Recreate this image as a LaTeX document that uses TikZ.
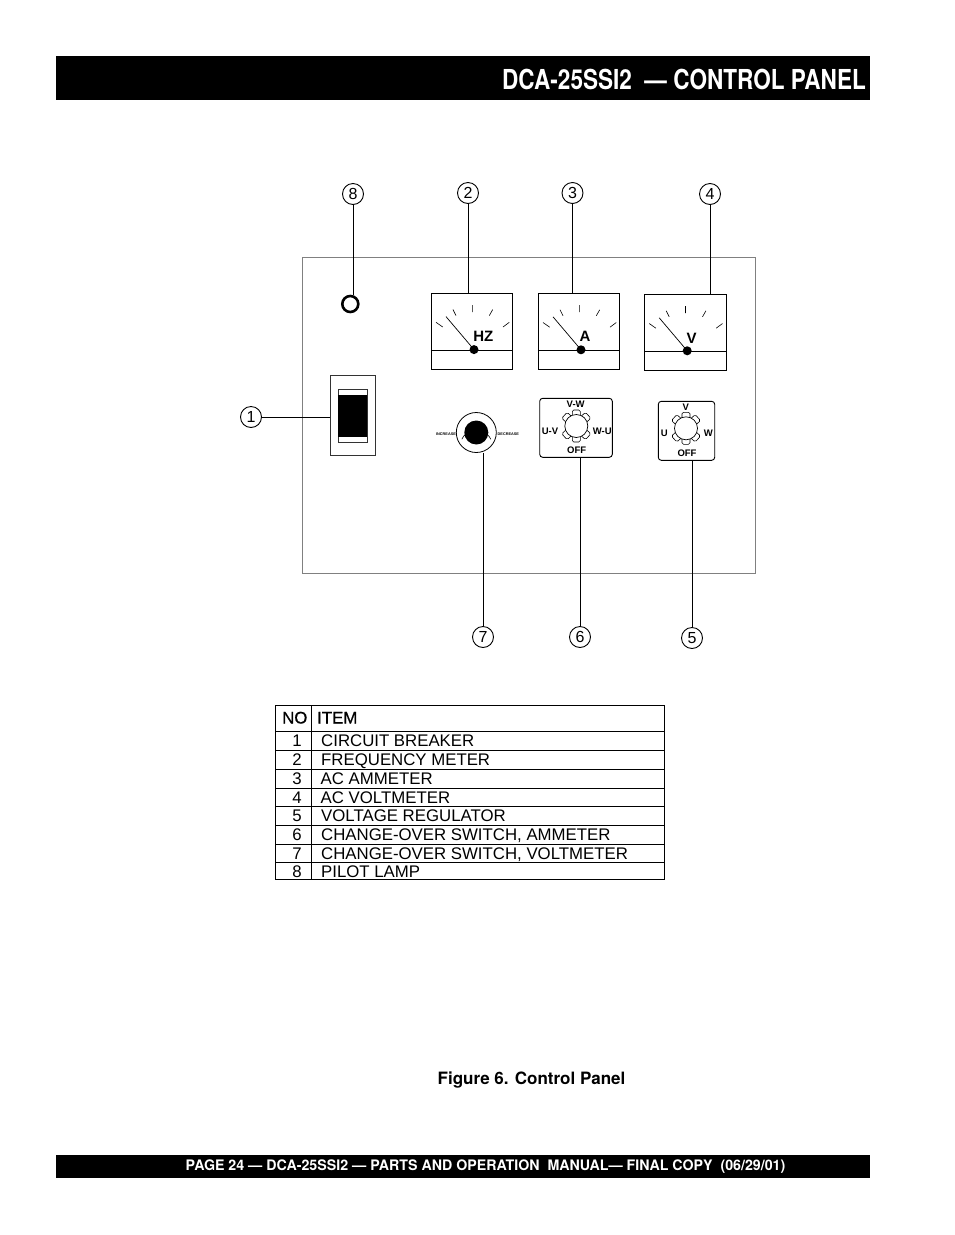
\documentclass[tikz,border=0pt]{standalone}
\usepackage{fontspec}
\setmainfont{Liberation Sans}
\newfontfamily\heros{TeX Gyre Heros}
\newfontfamily\headfont[FakeBold=0.6]{Liberation Sans}
\begin{document}
\begin{tikzpicture}[x=1pt,y=-1pt,
    callout node/.style={circle,draw,line width=0.9pt,minimum size=21pt,inner sep=0pt,font=\fontsize{16}{16}\selectfont},
    lead line/.style={line width=0.9pt},
    meter box/.style={rectangle,draw,line width=0.9pt,minimum width=81.5pt,minimum height=76pt,inner sep=0pt},
    meter label/.style={font=\fontsize{15}{15}\selectfont\bfseries,inner sep=0pt},
    switch box/.style={rectangle,draw,line width=0.9pt,rounded corners=3pt,inner sep=0pt},
    switch label/.style={font=\fontsize{9.5}{10}\selectfont\bfseries,inner sep=0pt},
    tiny label/.style={font=\fontsize{3.8}{4}\selectfont\bfseries,inner sep=0pt},
    cell text/.style={anchor=base west,inner sep=0pt,font=\fontsize{16.8}{16.8}\selectfont},
    cell number/.style={anchor=base,inner sep=0pt,font=\fontsize{16.8}{16.8}\selectfont},
    head text/.style={anchor=base west,inner sep=0pt,font=\headfont\fontsize{16.8}{16.8}\selectfont},
    bar/.style={rectangle,fill=black,inner sep=0pt,minimum width=814pt},
    meter/.pic={
      \node[meter box] (box) at (0,0) {};
      \draw[line width=0.9pt] (box.west |- 0,19) -- (box.east |- 0,19);
      \draw[line width=0.6pt] (-36,-9) -- (-29.3,-4.3) (-19,-21.7) -- (-16,-15.7)
        (0.3,-26.3) -- (0.3,-19.3) (20.7,-21.7) -- (17.3,-15.7) (37.3,-9) -- (31,-4.3);
      \draw[line width=0.7pt] (-26,-14.7) -- (2,18.3);
      \fill (2,18.3) circle (4.5);
    },
    lobes/.pic={
      \draw[line width=0.6pt,fill=white,rounded corners=1.5pt] (-4,-16) rectangle (4,0);
      \draw[line width=0.6pt,fill=white,rounded corners=1.5pt,rotate=48] (-4,-16) rectangle (4,0);
      \draw[line width=0.6pt,fill=white,rounded corners=1.5pt,rotate=132] (-4,-16) rectangle (4,0);
      \draw[line width=0.6pt,fill=white,rounded corners=1.5pt,rotate=180] (-4,-16) rectangle (4,0);
      \draw[line width=0.6pt,fill=white,rounded corners=1.5pt,rotate=228] (-4,-16) rectangle (4,0);
      \draw[line width=0.6pt,fill=white,rounded corners=1.5pt,rotate=312] (-4,-16) rectangle (4,0);
      \draw[line width=0.7pt,fill=white] (0,0) circle (11.5);
    }]
    \useasboundingbox (0,0) rectangle (954,1235);

    % bars
    \node[bar,minimum height=44pt] (title) at (463,78) {};
    \node[anchor=east,text=white,inner sep=0pt,font=\heros\fontsize{27.5}{28}\selectfont\bfseries] (titletext) at (866,79)
      {\scalebox{.82}[1]{DCA-25SSI2\ \ — CONTROL PANEL}};
    \node[bar,minimum height=23pt] (foot) at (463,1166.5) {};
    \node[text=white,inner sep=0pt,font=\heros\fontsize{14.5}{15}\selectfont\bfseries] (foottext) at (485.5,1166.5)
      {\scalebox{.98}[1]{PAGE 24 — DCA-25SSI2 — PARTS AND OPERATION\ \ MANUAL— FINAL COPY\ \ (06/29/01)}};
    \node[inner sep=0pt,font=\heros\fontsize{17}{17}\selectfont\bfseries] (caption) at (531.5,1080) {Figure 6. Control Panel};

    % panel
    \node[rectangle,draw=black!50,line width=0.8pt,minimum width=453pt,minimum height=316pt,inner sep=0pt] (panel) at (528.5,415) {};

    % meters
    \pic (m2) at (472,331.3) {meter};
    \pic (m3) at (579,331.5) {meter};
    \pic (m4) at (685.2,332.5) {meter};
    \node[meter label] (hz) at (483.3,336) {HZ};
    \node[meter label] (a) at (585,336) {A};
    \node[meter label] (v) at (691.7,338.3) {V};

    % lamp and breaker
    \node[circle,draw,line width=2.6pt,minimum size=16pt,inner sep=0pt] (lamp) at (350.3,304) {};
    \node[rectangle,draw=black!80,line width=0.9pt,minimum width=45.5pt,minimum height=80.7pt,inner sep=0pt] (breaker) at (353,415.3) {};
    \node[rectangle,draw=black!80,line width=0.9pt,minimum width=29pt,minimum height=52.7pt,inner sep=0pt] (rocker) at (352.8,415.7) {};
    \node[rectangle,fill=black,minimum width=29pt,minimum height=42pt,inner sep=0pt] (rockerface) at (352.8,416) {};

    % knob
    \node[circle,draw,line width=0.8pt,minimum size=40pt,inner sep=0pt] (knob) at (476.3,432.5) {};
    \node[circle,fill=black,minimum size=24pt,inner sep=0pt] (knobface) at (476.3,432.5) {};
    \draw[line width=0.6pt] (476.3,432.5) ++(155:16) arc[start angle=-155,end angle=-25,radius=16,y=-1pt];
    \node[tiny label] (inc) at (446,434) {INCREASE};
    \node[tiny label] (dec) at (508.3,434) {DECREASE};

    % switches
    \node[switch box,minimum width=72.6pt,minimum height=59pt] (sw6) at (576,427.8) {};
    \pic at (576.3,426) {lobes};
    \node[switch label] (vw) at (575.7,404.3) {V-W};
    \node[switch label] (uv) at (550,431.7) {U-V};
    \node[switch label] (wu) at (602.3,431) {W-U};
    \node[switch label] (off6) at (576.7,450.7) {OFF};
    \node[switch box,minimum width=56.4pt,minimum height=59pt] (sw5) at (686.5,430.8) {};
    \pic at (686,428.3) {lobes};
    \node[switch label] (vv) at (685.7,407) {V};
    \node[switch label] (uu) at (664.3,433.7) {U};
    \node[switch label] (ww) at (708.3,433.7) {W};
    \node[switch label] (off5) at (687,453.3) {OFF};

    % callouts
    \node[callout node] (1) at (251,417) {1};
    \node[callout node] (2) at (468,193) {2};
    \node[callout node] (3) at (572.5,193) {3};
    \node[callout node] (4) at (710,194) {4};
    \node[callout node] (5) at (692,638) {5};
    \node[callout node] (6) at (580,637) {6};
    \node[callout node] (7) at (483,637) {7};
    \node[callout node] (8) at (353,194) {8};
    \path[lead line]
    (1) edge (1 -| breaker.west)
    (2) edge (2 |- m2box.north)
    (3) edge (3 |- m3box.north)
    (4) edge (4 |- m4box.north)
    (5) edge (5 |- sw5.south)
    (6) edge (6 |- sw6.south)
    (7) edge (7 |- knob.south)
    (8) edge (8 |- lamp.north);

    % parts table
    \node[rectangle,draw,line width=0.9pt,minimum width=389pt,minimum height=174pt,inner sep=0pt] (table) at (469.5,792.8) {};
    \draw[line width=0.9pt] (table.north west -| 311,0) -- (table.south west -| 311,0);
    \draw[line width=0.9pt] (275,731) -- (664,731) (275,750) -- (664,750) (275,769) -- (664,769)
      (275,788) -- (664,788) (275,806.5) -- (664,806.5) (275,825) -- (664,825)
      (275,844) -- (664,844) (275,862.5) -- (664,862.5);
    \node[head text] (no) at (282,723.5) {NO};
    \node[head text] (item) at (317,723.5) {ITEM};
    \node[cell number] (n1) at (297,746) {1};
    \node[cell number] (n2) at (297,765) {2};
    \node[cell number] (n3) at (297,784) {3};
    \node[cell number] (n4) at (297,803) {4};
    \node[cell number] (n5) at (297,821.5) {5};
    \node[cell number] (n6) at (297,840) {6};
    \node[cell number] (n7) at (297,859) {7};
    \node[cell number] (n8) at (297,877.5) {8};
    \node[cell text] (t1) at (321,746) {CIRCUIT BREAKER};
    \node[cell text] (t2) at (321,765) {FREQUENCY METER};
    \node[cell text] (t3) at (320.5,784) {AC AMMETER};
    \node[cell text] (t4) at (320.5,803) {AC VOLTMETER};
    \node[cell text] (t5) at (321,821.5) {VOLTAGE REGULATOR};
    \node[cell text] (t6) at (321,840) {CHANGE-OVER SWITCH, AMMETER};
    \node[cell text] (t7) at (321,859) {CHANGE-OVER SWITCH, VOLTMETER};
    \node[cell text] (t8) at (321,877.5) {PILOT LAMP};
\end{tikzpicture}
\end{document}
